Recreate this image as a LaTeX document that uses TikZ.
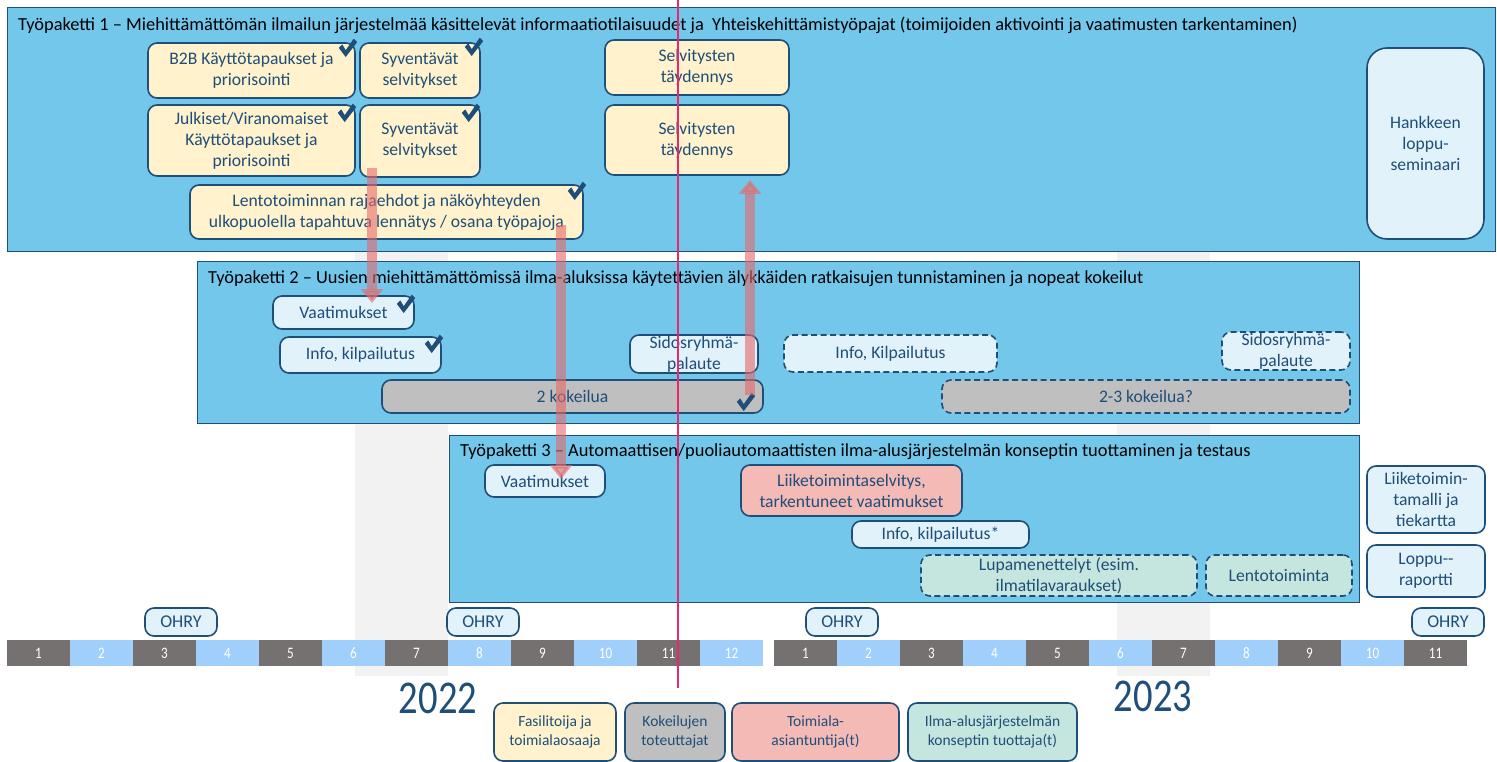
\documentclass[tikz,border=0pt]{standalone}
\usepackage{fontspec}
\setmainfont{Carlito}
\newfontfamily\narrowfont{Carlito}[FakeStretch=0.82]
\usetikzlibrary{arrows.meta}

\definecolor{wpblue}{RGB}{114,199,235}
\definecolor{bordblue}{RGB}{31,78,121}
\definecolor{boxyellow}{RGB}{255,242,204}
\definecolor{boxlight}{RGB}{225,242,250}
\definecolor{boxgrey}{RGB}{191,191,191}
\definecolor{boxpink}{RGB}{244,186,182}
\definecolor{boxteal}{RGB}{197,230,223}
\definecolor{monthdark}{RGB}{118,113,113}
\definecolor{monthlight}{RGB}{160,207,252}
\definecolor{bandgrey}{RGB}{242,242,242}
\definecolor{nowred}{RGB}{232,40,110}
\definecolor{flowred}{RGB}{230,105,105}

\tikzset{
	spot/.style args = {#1/#2/#3/#4}{at = {({(#1 + #3)/2}, {(#2 + #4)/2})},
		minimum width = {(#3 - #1)*1pt}, minimum height = {(#4 - #2)*1pt}},
	wp/.style = {draw = bordblue, fill = wpblue, line width = 1pt, inner sep = 0pt},
	wptitle/.style = {anchor = west, inner sep = 0pt, font = \fontsize{18.4}{20}\selectfont},
	box/.style = {draw = bordblue, line width = 1.6pt, rounded corners = 9pt, inner sep = 0pt,
		align = center, text = bordblue, font = \fontsize{17.6}{21}\selectfont},
	ybox/.style = {box, fill = boxyellow},
	lbox/.style = {box, fill = boxlight},
	gbox/.style = {box, fill = boxgrey},
	pbox/.style = {box, fill = boxpink},
	tbox/.style = {box, fill = boxteal},
	planned/.style = {dash pattern = on 6pt off 3.5pt},
	small/.style = {font = \fontsize{15.5}{19}\selectfont},
	ohry/.style = {lbox, font = \fontsize{18}{20}\selectfont},
	month/.style = {minimum width = 63pt, minimum height = 26pt, inner sep = 0pt,
		text = white, font = \narrowfont\fontsize{16}{18}\selectfont},
	year/.style = {text = bordblue, font = \narrowfont\fontsize{47}{50}\selectfont},
	flow/.style = {line width = 10pt, draw = flowred, fill = flowred, opacity = 0.6,
		-{Triangle[width = 22pt, length = 14pt]}},
	chk/.pic = {\fill[bordblue, scale = 1.15] (-8, -1) -- (-5, -4) -- (-2, 1) -- (5, -9) --
		(8, -6) -- (-2, 7) -- cycle;}
}

\begin{document}
\begin{tikzpicture}[x = 1pt, y = -1pt]

\useasboundingbox (0, 0) rectangle (1497, 762);

\fill[bandgrey] (355, 252) rectangle (448, 676);
\fill[bandgrey] (1117, 252) rectangle (1210, 676);

%work package 1 start
\node[wp, spot = 7/8/1495/252] (wp1) {};
\node[wptitle] (wp1t) at (18, 25) {Työpaketti 1 -- Miehittämättömän ilmailun järjestelmää käsittelevät informaatiotilaisuudet ja\ \ Yhteiskehittämistyöpajat (toimijoiden aktivointi ja vaatimusten tarkentaminen)};

\node[ybox, spot = 148/43/355/98] (b2b) {B2B Käyttötapaukset ja\\priorisointi};
\node[ybox, spot = 360/43/480/98] (syv1) {Syventävät\\selvitykset};
\node[ybox, spot = 148/105/355/176] (julk) {Julkiset/Viranomaiset\\Käyttötapaukset ja\\priorisointi};
\node[ybox, spot = 360/105/480/177] (syv2) {Syventävät\\selvitykset};
\node[ybox, spot = 190/185/583/239] (lento) {Lentotoiminnan rajaehdot ja näköyhteyden\\ulkopuolella tapahtuva lennätys / osana työpajoja};
\node[ybox, spot = 605/40/789/95] (selv1) {Selvitysten\\täydennys};
\node[ybox, spot = 605/105/789/175] (selv2) {Selvitysten\\täydennys};
\node[lbox, rounded corners = 20pt, spot = 1367/48/1484/239] (sem) {Hankkeen\\loppu-\\seminaari};

\pic at (348, 49) {chk};
\pic at (474, 48) {chk};
\pic at (347, 114) {chk};
\pic at (471, 114) {chk};
\pic at (577, 192) {chk};
%work package 1 end

%work package 2 start
\node[wp, spot = 197/262/1359/423] (wp2) {};
\node[wptitle] (wp2t) at (208, 279) {Työpaketti 2 -- Uusien miehittämättömissä ilma-aluksissa käytettävien älykkäiden ratkaisujen tunnistaminen ja nopeat kokeilut};

\node[lbox, spot = 273/296/414/329] (vaat2) {Vaatimukset};
\node[lbox, spot = 280/337/441/373] (info2) {Info, kilpailutus};
\node[lbox, spot = 630/335/758/373] (sid1) {Sidosryhmä-\\palaute};
\node[gbox, spot = 382/380/763/413] (kok1) {2 kokeilua};
\node[lbox, planned, spot = 784/335/997/372] (info3) {Info, Kilpailutus};
\node[lbox, planned, spot = 1222/332/1350/370] (sid2) {Sidosryhmä-\\palaute};
\node[gbox, planned, spot = 942/380/1350/413] (kok2) {2-3 kokeilua?};

\pic at (406, 305) {chk};
\pic at (434, 345) {chk};
\pic at (746, 403) {chk};
%work package 2 end

%work package 3 start
\node[wp, spot = 449/435/1359/602] (wp3) {};
\node[wptitle] (wp3t) at (460, 452) {Työpaketti 3 -- Automaattisen/puoliautomaattisten ilma-alusjärjestelmän konseptin tuottaminen ja testaus};

\node[lbox, spot = 485/465/605/497] (vaat3) {Vaatimukset};
\node[pbox, spot = 741/465/962/516] (liik) {Liiketoimintaselvitys,\\tarkentuneet vaatimukset};
\node[lbox, spot = 852/521/1029/548] (info4) {Info, kilpailutus*};
\node[tbox, planned, spot = 921/555/1197/596] (lupa) {Lupamenettelyt (esim.\\ilmatilavaraukset)};
\node[tbox, planned, spot = 1206/555/1352/596] (lennot) {Lentotoiminta};
%work package 3 end

\node[lbox, spot = 1367/466/1485/533] (malli) {Liiketoimin-\\tamalli ja\\tiekartta};
\node[lbox, spot = 1367/545/1485/597] (rap) {Loppu-{}-\\raportti};

\node[ohry, spot = 145/608/217/636] (ohry1) {OHRY};
\node[ohry, spot = 447/608/519/636] (ohry2) {OHRY};
\node[ohry, spot = 806/608/878/636] (ohry3) {OHRY};
\node[ohry, spot = 1412/608/1484/636] (ohry4) {OHRY};

%months start
\foreach \m in {1,...,12}{
	\ifodd\m \def\mc{monthdark}\else \def\mc{monthlight}\fi
	\node[month, fill = \mc] (a\m) at ({7 + 63*(\m - 0.5)}, 653) {\m};
}
\foreach \m in {1,...,11}{
	\ifodd\m \def\mc{monthdark}\else \def\mc{monthlight}\fi
	\node[month, fill = \mc] (b\m) at ({774 + 63*(\m - 0.5)}, 653) {\m};
}
%months end

\node[year] (y22) at (438, 698) {2022};
\node[year] (y23) at (1153, 696) {2023};

\node[ybox, small, spot = 494/703/616/761] (rooli1) {Fasilitoija ja\\toimialaosaaja};
\node[gbox, small, spot = 625/703/725/761] (rooli2) {Kokeilujen\\toteuttajat};
\node[pbox, small, spot = 732/703/899/761] (rooli3) {Toimiala-\\asiantuntija(t)};
\node[tbox, small, spot = 908/703/1077/761] (rooli4) {Ilma-alusjärjestelmän\\konseptin tuottaja(t)};

\coordinate (f1a) at (372, 168);
\coordinate (f1b) at (372, 303);
\coordinate (f2a) at (561, 225);
\coordinate (f2b) at (561, 479);
\coordinate (f3a) at (750, 395);
\coordinate (f3b) at (750, 180);
\draw[flow] (f1a) -- (f1b);
\draw[flow] (f2a) -- (f2b);
\draw[flow] (f3a) -- (f3b);

\draw[nowred, line width = 1.2pt] (678, 0) -- (678, 688);

\end{tikzpicture}
\end{document}
